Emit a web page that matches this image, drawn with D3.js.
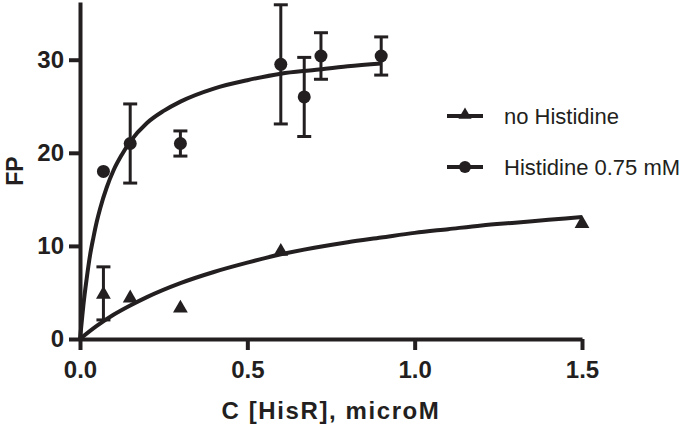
<!DOCTYPE html>
<html>
<head>
<meta charset="utf-8">
<script src="https://cdn.jsdelivr.net/npm/d3@7"></script>
<style>
  body { margin: 0; background: #fff; }
  text { font-family: "Liberation Sans", Arial, sans-serif; fill: #231f20; }
</style>
</head>
<body>
<div id="chart"></div>
<script>
// no Histidine: measured points
const noHisX = [0.07, 0.15, 0.3, 0.6, 1.5];
const noHisY = [4.9, 4.5, 3.4, 9.5, 12.5];
const noHisErr = [2.85, 0, 0, 0, 0];

// Histidine 0.75 mM: measured points
const hisX = [0.07, 0.15, 0.3, 0.6, 0.67, 0.72, 0.9];
const hisY = [18.0, 21.0, 21.0, 29.5, 26.0, 30.4, 30.4];
const hisErr = [0, 4.25, 1.35, 6.4, 4.25, 2.5, 2.05];

// fitted curves
const noHisFitX = [0, 0.05, 0.1, 0.15, 0.2, 0.3, 0.4, 0.5, 0.6, 0.7, 0.8, 0.9, 1.0, 1.1, 1.2, 1.3, 1.4, 1.5];
const noHisFitY = [0, 1.4, 2.6, 3.6, 4.5, 6.0, 7.2, 8.2, 9.1, 9.8, 10.4, 10.9, 11.4, 11.8, 12.2, 12.5, 12.8, 13.1];
const hisFitX = [0, 0.005, 0.01, 0.02, 0.03, 0.04, 0.05, 0.06, 0.08, 0.1, 0.125, 0.15, 0.2, 0.25, 0.3, 0.4, 0.5, 0.6, 0.7, 0.8, 0.9];
const hisFitY = [0, 1.8, 3.6, 6.5, 9.0, 10.9, 12.6, 14.0, 16.3, 18.1, 19.8, 21.2, 23.2, 24.5, 25.5, 26.9, 27.8, 28.5, 28.9, 29.3, 29.6];

const xTicks = [0, 0.5, 1.0, 1.5];
const yTicks = [0, 10, 20, 30];
const seriesNames = ["no Histidine", "Histidine 0.75 mM"];

const W = 685, H = 428;
const ink = "#231f20";

const svg = d3.select("#chart").append("svg")
  .attr("width", W).attr("height", H);

const x = d3.scaleLinear().domain([0, 1.5]).range([80, 582]);
const y = d3.scaleLinear().domain([0, 36.2]).range([339, 2]);

// axes
const xAxis = svg.append("g")
  .attr("transform", `translate(0,${y(0)})`)
  .call(d3.axisBottom(x).tickValues(xTicks).tickFormat(d3.format(".1f")).tickSize(11).tickSizeOuter(0).tickPadding(11));
const yAxis = svg.append("g")
  .attr("transform", `translate(${x(0)},0)`)
  .call(d3.axisLeft(y).tickValues(yTicks).tickSize(11).tickSizeOuter(0).tickPadding(5));

[xAxis, yAxis].forEach(g => {
  g.select(".domain").attr("stroke", ink).attr("stroke-width", 4);
  g.selectAll(".tick line").attr("stroke", ink).attr("stroke-width", 4);
  g.selectAll(".tick text")
    .attr("fill", ink)
    .style("font-size", "24px")
    .style("font-weight", "bold");
});

// axis titles
svg.append("text")
  .attr("x", 331).attr("y", 419)
  .attr("text-anchor", "middle")
  .style("font-size", "24px").style("font-weight", "bold")
  .style("letter-spacing", "1.6px")
  .text("C [HisR], microM");

svg.append("text")
  .attr("transform", "translate(23,171) rotate(-90)")
  .attr("text-anchor", "middle")
  .style("font-size", "23px").style("font-weight", "bold")
  .text("FP");

// fit curves
const line = d3.line().x(d => x(d[0])).y(d => y(d[1])).curve(d3.curveMonotoneX);
const hisFit = hisFitX.map((v, i) => [v, hisFitY[i]]);
const noHisFit = noHisFitX.map((v, i) => [v, noHisFitY[i]]);
[hisFit, noHisFit].forEach(pts => {
  svg.append("path").datum(pts)
    .attr("d", line)
    .attr("fill", "none")
    .attr("stroke", ink)
    .attr("stroke-width", 4);
});

// error bars
function errorBars(xs, ys, es) {
  const data = xs.map((v, i) => ({x: v, y: ys[i], e: es[i]})).filter(d => d.e > 0);
  const g = svg.append("g").attr("stroke", ink).attr("stroke-width", 3);
  g.selectAll("line.v").data(data).enter().append("line")
    .attr("x1", d => x(d.x)).attr("x2", d => x(d.x))
    .attr("y1", d => y(d.y + d.e)).attr("y2", d => y(d.y - d.e));
  g.selectAll("line.top").data(data).enter().append("line")
    .attr("x1", d => x(d.x) - 7).attr("x2", d => x(d.x) + 7)
    .attr("y1", d => y(d.y + d.e)).attr("y2", d => y(d.y + d.e));
  g.selectAll("line.bot").data(data).enter().append("line")
    .attr("x1", d => x(d.x) - 7).attr("x2", d => x(d.x) + 7)
    .attr("y1", d => y(d.y - d.e)).attr("y2", d => y(d.y - d.e));
}
errorBars(hisX, hisY, hisErr);
errorBars(noHisX, noHisY, noHisErr);

// markers
const tri = d3.symbol().type(d3.symbolTriangle).size(95);
svg.selectAll("path.tri")
  .data(noHisX.map((v, i) => [v, noHisY[i]]))
  .enter().append("path")
  .attr("transform", d => `translate(${x(d[0])},${y(d[1]) + 1})`)
  .attr("d", tri)
  .attr("fill", ink);

svg.selectAll("circle.dot")
  .data(hisX.map((v, i) => [v, hisY[i]]))
  .enter().append("circle")
  .attr("cx", d => x(d[0])).attr("cy", d => y(d[1]))
  .attr("r", 6.5)
  .attr("fill", ink);

// legend
const legend = svg.append("g");
seriesNames.forEach((name, i) => {
  const ly = 116 + i * 51;
  legend.append("line")
    .attr("x1", 447).attr("x2", 483).attr("y1", ly).attr("y2", ly)
    .attr("stroke", ink).attr("stroke-width", 4);
  if (i === 0) {
    legend.append("path")
      .attr("transform", `translate(465,${ly - 1})`)
      .attr("d", d3.symbol().type(d3.symbolTriangle).size(75))
      .attr("fill", ink);
  } else {
    legend.append("circle").attr("cx", 465).attr("cy", ly).attr("r", 6).attr("fill", ink);
  }
  legend.append("text")
    .attr("x", 504).attr("y", ly + 8)
    .style("font-size", "22px")
    .text(name);
});
</script>
</body>
</html>
